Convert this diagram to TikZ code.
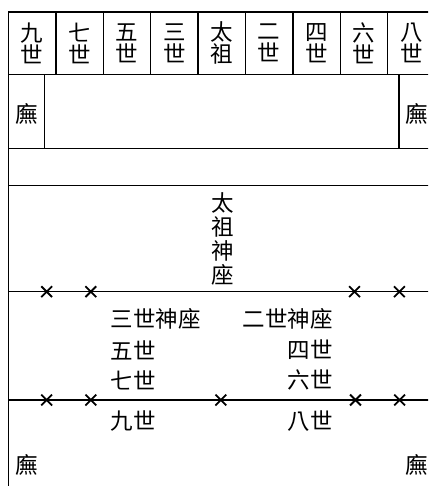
\documentclass[tikz,border=0pt]{standalone}
\usepackage{fontspec}
\newfontfamily\cjk{Noto Sans CJK TC}
\usetikzlibrary{shapes.misc}
\begin{document}
\begin{tikzpicture}[x=1pt,y=-1pt,
  frame/.style={line width=1.5pt, draw=black},
  txt/.style={font=\cjk\fontsize{22.5}{22}\selectfont, inner sep=0pt, align=center},
  vtxt/.style={font=\cjk\fontsize{22.5}{24}\selectfont, inner sep=0pt, align=center},
  xmark/.style={draw, cross out, line width=1.8pt, minimum size=9pt, inner sep=0pt}]
\useasboundingbox (0,0) rectangle (428,486);
\clip (0,0) rectangle (428,486);
% outer frame and rows
\draw[frame] (8.5,12) rectangle (435.1,520);
\foreach \yy in {74.3,148.3,185.3,291.7,400} \draw[frame] (8.5,\yy) -- (435.1,\yy);
\foreach \k in {1,...,8} \draw[frame] ({8.5+47.4*\k},12) -- ({8.5+47.4*\k},74.3);
\draw[frame] (44.7,74.3) -- (44.7,148.3);
\draw[frame] (399.1,74.3) -- (399.1,148.3);
% top cells
\node[txt] (c1) at (32.2,43) {九\\世};
\node[txt] (c2) at (79.6,43) {七\\世};
\node[txt] (c3) at (127.0,43) {五\\世};
\node[txt] (c4) at (174.4,43) {三\\世};
\node[txt] (c5) at (221.8,43) {太\\祖};
\node[txt] (c6) at (269.2,43) {二\\世};
\node[txt] (c7) at (316.6,43) {四\\世};
\node[txt] (c8) at (364.0,43) {六\\世};
\node[txt] (c9) at (411.4,43) {八\\世};
% side halls
\node[txt] (wl1) at (26.6,114) {廡};
\node[txt] (wr1) at (417.0,114) {廡};
\node[txt] (wl2) at (26.6,465) {廡};
\node[txt] (wr2) at (417.0,465) {廡};
% central seat
\node[vtxt] (tz) at (222.3,238.5) {太\\祖\\神\\座};
% left column
\node[txt, anchor=west] (l1) at (110.5,319) {三世神座};
\node[txt, anchor=west] (l2) at (110.5,350) {五世};
\node[txt, anchor=west] (l3) at (110.5,380) {七世};
\node[txt, anchor=west] (l4) at (110.5,421) {九世};
% right column
\node[txt, anchor=east] (r1) at (333,319) {二世神座};
\node[txt, anchor=east] (r2) at (333,350) {四世};
\node[txt, anchor=east] (r3) at (333,380) {六世};
\node[txt, anchor=east] (r4) at (333,421) {八世};
% crosses
\node[xmark] (xa1) at (46.7,291.7) {};
\node[xmark] (xa2) at (90.8,291.7) {};
\node[xmark] (xa3) at (354.5,291.7) {};
\node[xmark] (xa4) at (399.4,291.7) {};
\node[xmark] (xb1) at (46.7,400) {};
\node[xmark] (xb2) at (90.8,400) {};
\node[xmark] (xb3) at (220.8,400) {};
\node[xmark] (xb4) at (355.5,400) {};
\node[xmark] (xb5) at (399.6,400) {};
\end{tikzpicture}
\end{document}
